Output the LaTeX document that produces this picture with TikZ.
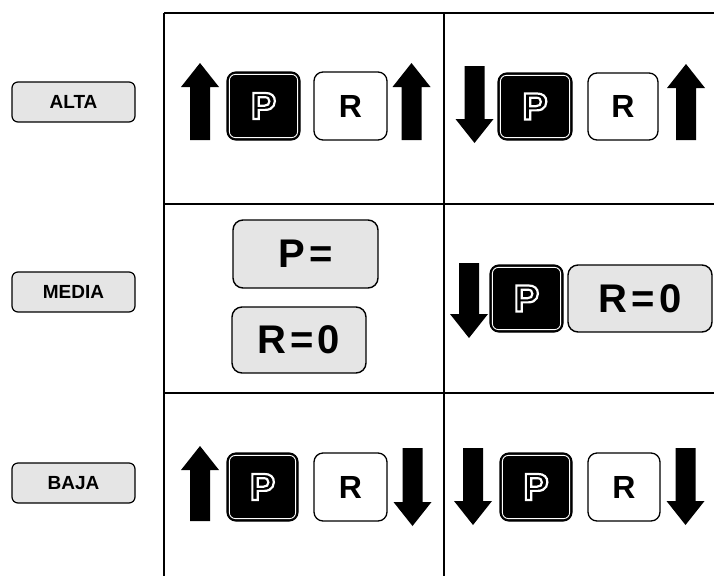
\documentclass[tikz,border=0pt]{standalone}
\usepackage{fontspec}
\setmainfont{Liberation Sans}
\usetikzlibrary{calc}
\tikzset{
  gridline/.style={line width=1.4pt, black},
  lbl/.style={draw, line width=1.2pt, rounded corners=6pt, fill=gray!20, minimum width=123pt, minimum height=40pt, inner sep=0pt, font=\bfseries\fontsize{19}{19}\selectfont},
  pbox/.style={draw=black, fill=black, line width=1.2pt, rounded corners=9pt, inner sep=0pt},
  rbox/.style={draw=black, fill=white, line width=1.3pt, rounded corners=9pt, inner sep=0pt, font=\bfseries\fontsize{32}{32}\selectfont},
  eqbox/.style={draw=black, fill=gray!20, line width=1.4pt, rounded corners=10pt, inner sep=0pt, font=\bfseries\fontsize{40}{40}\selectfont},
  pletter/.style={inner sep=0pt, text=black, font=\bfseries\fontsize{38}{38}\selectfont},
  arr/.style={fill=black}
}
\newcommand\outlineP{\special{pdf:literal direct 2 Tr 1 1 1 RG 2.2 w}P}
\newcommand\arrUp[3]{%
  \fill[arr] (#1-10,#3) -- (#1-10,#2+24) -- (#1-19,#2+24) -- (#1,#2) -- (#1+19,#2+24) -- (#1+10,#2+24) -- (#1+10,#3) -- cycle;}
\newcommand\arrDown[3]{%
  \fill[arr] (#1-10,#2) -- (#1-10,#3-24) -- (#1-19,#3-24) -- (#1,#3) -- (#1+19,#3-24) -- (#1+10,#3-24) -- (#1+10,#2) -- cycle;}
\newcommand\pkey[5]{%
  \node[pbox, minimum width=#4pt, minimum height=#5pt] (#1) at (#2,#3) {};
  \draw[white, line width=0.9pt, rounded corners=6pt] ([shift={(3pt,-3pt)}]#1.north west) rectangle ([shift={(-3pt,3pt)}]#1.south east);
  \node[pletter] (#1t) at (#1.center) {\outlineP};}
\begin{document}
\begin{tikzpicture}[x=1pt, y=-1pt]
\useasboundingbox (0,0) rectangle (714,576);
% grid
\draw[gridline] (164,13) -- (164,576);
\draw[gridline] (444,13) -- (444,576);
\draw[gridline] (164,13) -- (714,13);
\draw[gridline] (164,204) -- (714,204);
\draw[gridline] (164,393) -- (714,393);
% row labels
\node[lbl] (alta) at (73.5,102) {ALTA};
\node[lbl] (media) at (73.5,292) {MEDIA};
\node[lbl] (baja) at (73.5,483) {BAJA};
% row 1, cell 1
\arrUp{200}{63}{140}
\pkey{p11}{263.5}{106}{73}{68}
\node[rbox, minimum width=73pt, minimum height=68pt] (r11) at (350.5,106) {R};
\arrUp{411.5}{63}{140}
% row 1, cell 2
\arrDown{474.5}{66}{143}
\pkey{p12}{535}{106.5}{74}{67}
\node[rbox, minimum width=70pt, minimum height=67pt] (r12) at (623,106.5) {R};
\arrUp{686}{64}{140}
% row 2, cell 1
\node[eqbox, minimum width=145pt, minimum height=68pt] (peq) at (305.5,254) {P\hspace{4pt}=};
\node[eqbox, minimum width=134pt, minimum height=66pt] (req1) at (299,340) {R\hspace{4pt}=\hspace{4pt}0};
% row 2, cell 2
\arrDown{469}{263}{338}
\pkey{p22}{526.5}{298.5}{73}{67}
\node[eqbox, minimum width=144pt, minimum height=67pt] (req2) at (640,298.5) {R\hspace{4pt}=\hspace{4pt}0};
% row 3, cell 1
\arrUp{200}{446}{521}
\pkey{p31}{262.5}{487}{71}{68}
\node[rbox, minimum width=73pt, minimum height=68pt] (r31) at (350.5,487) {R};
\arrDown{412.5}{448}{526}
% row 3, cell 2
\arrDown{473}{448}{525}
\pkey{p32}{536}{487}{72}{68}
\node[rbox, minimum width=72pt, minimum height=68pt] (r32) at (624,487) {R};
\arrDown{685.5}{448}{525}
\end{tikzpicture}
\end{document}
